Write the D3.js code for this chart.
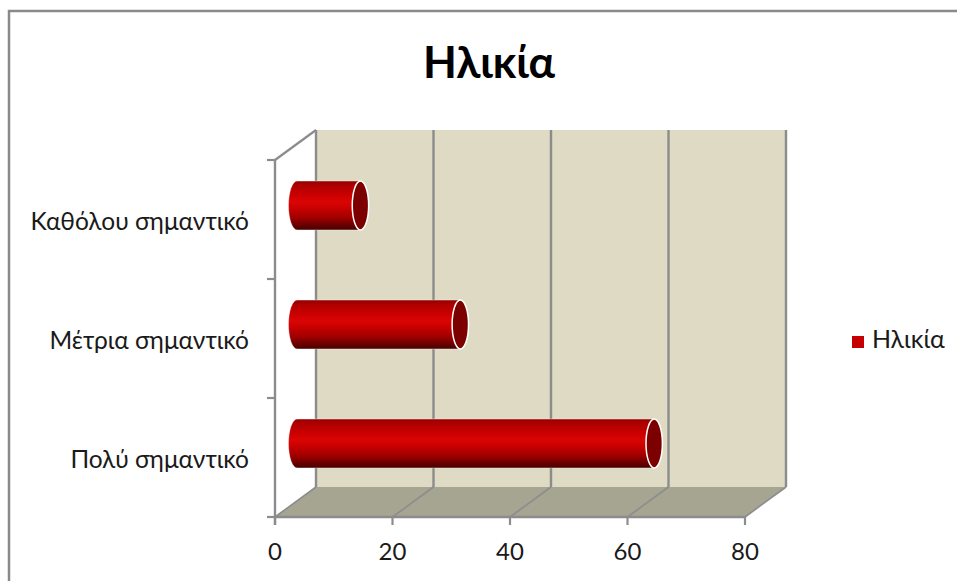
<!DOCTYPE html>
<html><head><meta charset="utf-8">
<script src="https://cdnjs.cloudflare.com/ajax/libs/d3/7.8.5/d3.min.js"></script>
<style>html,body{margin:0;padding:0;background:#fff}svg{display:block}
text{font-family:Lato,"Open Sans",sans-serif;fill:#1a1a1a}</style></head>
<body><svg id="c" width="957" height="581"></svg>
<script>
const chartTitle = "Ηλικία";
const seriesName = "Ηλικία";
const categories = ["Πολύ σημαντικό","Μέτρια σημαντικό","Καθόλου σημαντικό"];
const values = [60.8,27.8,10.8];
const xTicks = [0,20,40,60,80];

const svg = d3.select("#c");
const x0=275,x1=745,y0=517,y1=160,dx=41,dy=-30;
const x = d3.scaleLinear().domain([0,80]).range([x0,x1]);
const y = d3.scaleBand().domain(categories).range([y0,y1]);
const grey="#8c8c8c";

const defs = svg.append("defs");
const g = defs.append("linearGradient").attr("id","cyl").attr("x1",0).attr("x2",0).attr("y1",0).attr("y2",1);
[[0,"#960000"],[0.1,"#b00000"],[0.3,"#cc0000"],[0.43,"#da0505"],[0.56,"#c80000"],[0.75,"#a00000"],[0.92,"#620000"],[1,"#4a0000"]]
 .forEach(d=>g.append("stop").attr("offset",d[0]).attr("stop-color",d[1]));

// frame
svg.append("path").attr("d","M9,581V11H957").attr("fill","none").attr("stroke","#8a8a8a").attr("stroke-width",2.5);

// walls
svg.append("rect").attr("x",x0+dx).attr("y",y1+dy).attr("width",x1-x0).attr("height",y0-y1).attr("fill","#dedac4");
svg.append("path").attr("d",`M${x0},${y0}H${x1}l${dx},${dy}H${x0+dx}Z`).attr("fill","#a6a592");

// gridlines
xTicks.forEach(t=>{
  const px=x(t);
  svg.append("path").attr("fill","none").attr("stroke",grey).attr("stroke-width",1.6)
    .attr("d",`M${px},${y0}l${dx},${dy}`);
  svg.append("path").attr("fill","none").attr("stroke",grey).attr("stroke-width",2.4)
    .attr("d",`M${px+dx},${y0+dy}V${y1+dy}`);
});
// left wall top/side
svg.append("path").attr("fill","none").attr("stroke",grey).attr("stroke-width",2.2)
  .attr("d",`M${x0},${y1}l${dx},${dy}`);
svg.append("path").attr("fill","none").attr("stroke",grey).attr("stroke-width",2.4)
  .attr("d",`M${x0},${y0+8}V${y1}`);
svg.append("path").attr("fill","none").attr("stroke",grey).attr("stroke-width",2.4)
  .attr("d",`M${x0},${y0}H${x1}`);

// ticks
xTicks.forEach(t=>svg.append("line").attr("x1",x(t)).attr("x2",x(t)).attr("y1",y0).attr("y2",y0+8).attr("stroke",grey).attr("stroke-width",2.2));
[...categories.map(c=>y(c)),y0].forEach(p=>svg.append("line").attr("x1",x0-8).attr("x2",x0).attr("y1",p).attr("y2",p).attr("stroke",grey).attr("stroke-width",2.2));

// bars
const bh=y.bandwidth()*0.41, rx=8.5, ox=22, oy=-14;
categories.forEach((c,i)=>{
  const cy=y(c)+y.bandwidth()/2+oy, top=cy-bh/2, bot=cy+bh/2;
  const L=x0+ox, R=x(values[i])+ox;
  const G=svg.append("g");
  G.append("path").attr("fill","url(#cyl)")
   .attr("d",`M${R},${top}H${L}A${rx},${bh/2} 0 0 0 ${L},${bot}H${R}Z`)
   .attr("stroke","#fff").attr("stroke-opacity",.45).attr("stroke-width",.8);
  G.append("ellipse").attr("cx",R).attr("cy",cy).attr("rx",rx-.3).attr("ry",bh/2)
   .attr("fill","#7c0000").attr("stroke","#fff").attr("stroke-width",1.5);
});

// category labels
categories.forEach(c=>svg.append("text").attr("x",249).attr("y",y(c)+y.bandwidth()/2+10)
  .attr("text-anchor","end").attr("font-size",24.5).text(c));
// x labels
xTicks.forEach(t=>svg.append("text").attr("x",x(t)).attr("y",560).attr("text-anchor","middle").attr("font-size",24).text(t));
// title
svg.append("text").attr("x",489).attr("y",78).attr("text-anchor","middle").attr("font-size",44).attr("font-weight",700).style("fill","#000").text(chartTitle);
// legend
svg.append("rect").attr("x",852).attr("y",336).attr("width",12).attr("height",12).attr("fill","#c60000");
svg.append("text").attr("x",872).attr("y",348).attr("font-size",25).text(seriesName);
</script></body></html>
